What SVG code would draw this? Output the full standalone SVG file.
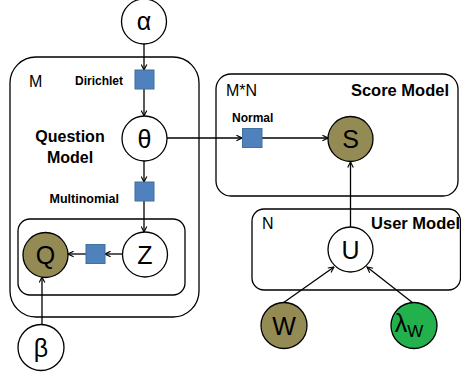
<svg xmlns="http://www.w3.org/2000/svg" width="461" height="376" viewBox="0 0 461 376">
<style>
.plate{fill:none;stroke:#000;stroke-width:1.3}
.node{fill:#fff;stroke:#000;stroke-width:1.3}
.obs{fill:#948A54;stroke:#000;stroke-width:1.3}
.green{fill:#22B14C;stroke:#000;stroke-width:1.3}
.fac{fill:#4F81BD;stroke:#41719C;stroke-width:1}
.edge{stroke:#000;stroke-width:1.3;fill:none;marker-end:url(#arr)}
.sym{font-family:"Liberation Sans",Arial,sans-serif;font-size:25px;text-anchor:middle;fill:#000}
.lbl{font-family:"Liberation Sans",Arial,sans-serif;font-size:16px;fill:#000}
.bold{font-family:"Liberation Sans",Arial,sans-serif;font-weight:bold;fill:#000}
</style>
<defs>
<marker id="arr" viewBox="0 0 10 10" refX="9" refY="5" markerWidth="7" markerHeight="7" markerUnits="userSpaceOnUse" orient="auto">
<path d="M1,1 L9,5 L1,9" fill="none" stroke="#000" stroke-width="1.6"/>
</marker>
</defs>

<g id="plates">
<g id="question-plate">
<rect class="plate" x="10" y="57" width="189" height="260" rx="26"/>
<text class="lbl" x="29" y="87">M</text>
<text class="bold" font-size="16" x="70" y="142" text-anchor="middle">Question</text>
<text class="bold" font-size="16" x="70" y="163" text-anchor="middle">Model</text>
</g>
<g id="inner-plate">
<rect class="plate" x="18" y="219" width="167" height="76" rx="12"/>
</g>
<g id="score-plate">
<rect class="plate" x="216" y="74" width="242" height="122" rx="15"/>
<text class="lbl" x="226" y="96">M*N</text>
<text class="bold" font-size="16.5" x="449" y="96" text-anchor="end">Score Model</text>
</g>
<g id="user-plate">
<rect class="plate" x="252" y="209" width="208.5" height="81" rx="12"/>
<text class="lbl" x="262" y="229">N</text>
<text class="bold" font-size="16.5" x="460" y="229" text-anchor="end">User Model</text>
</g>
</g>

<g id="connectors">
<line class="edge" x1="144" y1="44" x2="144" y2="70"/>
<line class="edge" x1="144" y1="89" x2="144" y2="116"/>
<line class="edge" x1="144" y1="161" x2="144" y2="182"/>
<line class="edge" x1="144" y1="201" x2="144" y2="232"/>
<line class="edge" x1="122" y1="254" x2="105" y2="254"/>
<line class="edge" x1="86" y1="254" x2="68" y2="254"/>
<line class="edge" x1="42" y1="325" x2="42" y2="277"/>
<line class="edge" x1="167" y1="138" x2="242" y2="138"/>
<line class="edge" x1="262" y1="138" x2="328" y2="138"/>
<line class="edge" x1="350.5" y1="227" x2="350.5" y2="162"/>
<line class="edge" x1="283" y1="303" x2="334" y2="267"/>
<line class="edge" x1="413" y1="303" x2="367" y2="267"/>
</g>

<g id="alpha"><circle class="node" cx="144" cy="21.5" r="22.5"/><text class="sym" x="144" y="30">α</text></g>
<g id="dirichlet"><rect class="fac" x="135" y="70" width="19" height="19"/><text class="bold" font-size="12" x="123" y="85" text-anchor="end">Dirichlet</text></g>
<g id="theta"><circle class="node" cx="144.5" cy="138.5" r="22.5"/><text class="sym" x="144.5" y="147.5">θ</text></g>
<g id="multinomial"><rect class="fac" x="135" y="182" width="19" height="19"/><text class="bold" font-size="12.5" x="119" y="203" text-anchor="end">Multinomial</text></g>
<g id="Z"><circle class="node" cx="145" cy="254.5" r="22.5"/><text class="sym" x="145" y="263.5">Z</text></g>
<g id="zq-factor"><rect class="fac" x="86" y="244.5" width="19" height="19"/></g>
<g id="Q"><circle class="obs" cx="45.5" cy="255" r="22.5"/><text class="sym" x="45.5" y="264">Q</text></g>
<g id="beta"><circle class="node" cx="41" cy="347.5" r="23"/><text class="sym" x="41" y="356.5">β</text></g>
<g id="normal"><rect class="fac" x="242.5" y="128.5" width="19.5" height="19"/><text class="bold" font-size="12" x="232" y="122">Normal</text></g>
<g id="S"><circle class="obs" cx="350.5" cy="139" r="22.5"/><text class="sym" x="350.5" y="148">S</text></g>
<g id="U"><circle class="node" cx="350.5" cy="249.5" r="22.5"/><text class="sym" x="350.5" y="258.5">U</text></g>
<g id="W"><circle class="obs" cx="284" cy="325.5" r="23"/><text class="sym" x="284" y="334.5">W</text></g>
<g id="lambda"><circle class="green" cx="414" cy="325.5" r="23"/><text class="sym" x="409" y="332">λ<tspan font-size="17" dy="5">W</tspan></text></g>
</svg>
